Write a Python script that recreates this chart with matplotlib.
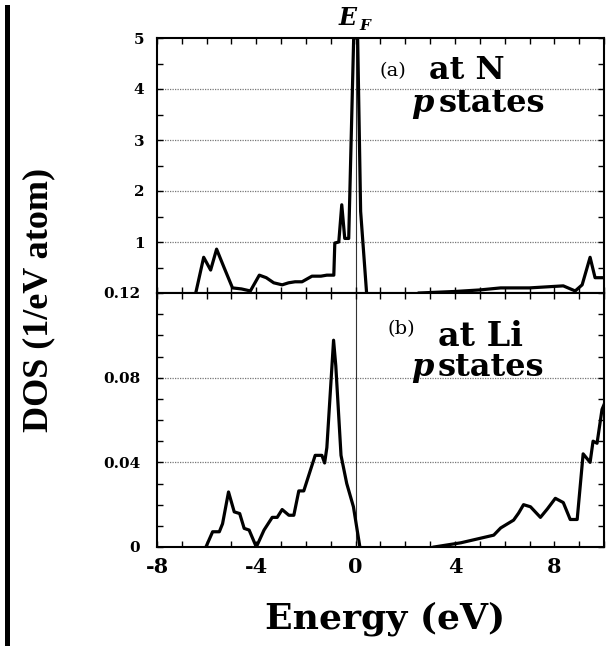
import numpy as np
import matplotlib
matplotlib.use("Agg")
import matplotlib.pyplot as plt
from matplotlib.patches import Rectangle

# ---- data (energy in eV, DOS in 1/eV atom) ---------------------------------
# (a) N p states
e_n = [-6.44, -6.12, -5.84, -5.6, -5.3, -4.96, -4.6, -4.24, -3.88, -3.6, -3.3,
       -2.96, -2.7, -2.44, -2.16, -1.76, -1.4, -1.16, -0.88, -0.84, -0.68,
       -0.56, -0.44, -0.28, -0.08, 0.08, 0.2, 0.44, np.nan,
       2.56, 4.0, 5.0, 5.84, 7.0, 8.36, 8.84, 9.12, 9.44, 9.64, 10.0]
dos_n = [0.0, 0.7, 0.45, 0.86, 0.5, 0.1, 0.08, 0.04, 0.35, 0.3, 0.2,
         0.16, 0.2, 0.22, 0.22, 0.33, 0.33, 0.35, 0.35, 0.98, 1.0,
         1.73, 1.07, 1.07, 5.0, 5.0, 1.6, 0.0, np.nan,
         0.0, 0.03, 0.06, 0.1, 0.1, 0.14, 0.04, 0.16, 0.7, 0.3, 0.3]

# (b) Li p states
e_li = [-6.03, -5.76, -5.49, -5.36, -5.12, -4.89, -4.67, -4.49, -4.29, -4.0,
        -3.69, -3.36, -3.16, -2.96, -2.69, -2.49, -2.29, -2.09, -1.63, -1.36,
        -1.25, -1.16, -0.89, -0.8, -0.59, -0.36, -0.09, 0.17, np.nan,
        3.16, 4.24, 5.56, 5.84, 6.36, 6.56, 6.76, 7.04, 7.44, 7.72, 8.04,
        8.36, 8.64, 8.92, 9.16, 9.44, 9.56, 9.72, 9.92, 10.1]
dos_li = [0.0, 0.0072, 0.0072, 0.011, 0.026, 0.0166, 0.0158, 0.0088, 0.008, 0.0,
          0.008, 0.014, 0.014, 0.0177, 0.015, 0.015, 0.0265, 0.0265, 0.0433, 0.0433,
          0.0397, 0.047, 0.0977, 0.0856, 0.0433, 0.030, 0.019, 0.0, np.nan,
          0.0, 0.002, 0.0056, 0.009, 0.0127, 0.016, 0.02, 0.019, 0.014, 0.018, 0.023,
          0.021, 0.013, 0.013, 0.044, 0.04, 0.05, 0.049, 0.065, 0.07]

yticks_a = [1, 2, 3, 4, 5]
yticks_b = [0, 0.04, 0.08, 0.12]
yticklabels_b = ["0", "0.04", "0.08", "0.12"]
xticks = [-8, -4, 0, 4, 8]

TIMES = ["Liberation Serif", "DejaVu Serif"]
WIDE = ["DejaVu Serif"]      # the scan's type is wide; DejaVu keeps the widths
plt.rcParams.update({
    "font.family": WIDE,
    "font.weight": "bold",
    "axes.linewidth": 1.5,
})

W, H = 611, 646
fig = plt.figure(figsize=(W / 100, H / 100), dpi=100)
fig.patch.set_facecolor("white")

left, right = 157 / W, 604 / W
a_top, a_bot, b_bot = 1 - 38 / H, 1 - 293 / H, 1 - 547 / H
axA = fig.add_axes([left, a_bot, right - left, a_top - a_bot])
axB = fig.add_axes([left, b_bot, right - left, a_bot - b_bot])

for ax in (axA, axB):
    ax.set_xlim(-8, 10)
    ax.set_xticks(xticks)
    ax.set_xticks(np.arange(-8, 11, 1), minor=True)
    ax.tick_params(which="both", direction="in", top=True, right=True,
                   length=4, width=1.0)
    ax.axvline(0, color="#333333", lw=0.8, zorder=1)

# ---- panel (a) ---------------------------------------------------------------
axA.plot(e_n, dos_n, color="black", lw=2.3, zorder=3, solid_joinstyle="round")
axA.set_ylim(0, 5)
axA.set_yticks(yticks_a)
axA.set_yticks(np.arange(0, 5.01, 0.5), minor=True)
axA.set_yticklabels([str(v) for v in yticks_a], fontsize=11)
axA.tick_params(axis="y", pad=9)
axA.tick_params(axis="x", labelbottom=False)
for v in yticks_a[:-1]:
    axA.axhline(v, color="#777777", lw=0.9, ls=(0, (1, 1)), zorder=0)

axA.text(0.96, 4.25, "(a)", fontsize=14, fontweight="normal", va="baseline")
axA.text(2.96, 4.2, "at N", fontsize=23, va="baseline")
axA.text(2.24, 3.55, "p", fontsize=23, style="italic", va="baseline")
axA.text(3.36, 3.55, "states", fontsize=23, va="baseline")

# ---- panel (b) ---------------------------------------------------------------
axB.plot(e_li, dos_li, color="black", lw=2.3, zorder=3, solid_joinstyle="round")
axB.set_ylim(0, 0.12)
axB.set_yticks(yticks_b)
axB.set_yticks(np.arange(0, 0.1201, 0.01), minor=True)
axB.set_yticklabels(yticklabels_b, fontsize=11)
axB.tick_params(axis="y", pad=12)
axB.set_xticklabels([str(v) for v in xticks], fontsize=15)
axB.tick_params(axis="x", pad=7)
for v in (0.04, 0.08):
    axB.axhline(v, color="#777777", lw=0.9, ls=(0, (1, 1)), zorder=0)

axB.text(1.28, 0.1007, "(b)", fontsize=14, fontweight="normal", va="baseline")
axB.text(3.32, 0.0951, "at Li", fontsize=24, va="baseline")
axB.text(2.24, 0.081, "p", fontsize=23, style="italic", va="baseline")
axB.text(3.32, 0.081, "states", fontsize=23, va="baseline")

# ---- figure-level labels -----------------------------------------------------
fig.text(339 / W, 1 - 25 / H, "E", fontsize=17, style="italic", va="baseline")
fig.text(359 / W, 1 - 30 / H, "F", fontsize=11, style="italic", va="baseline")
fig.text(39 / W, 1 - 300 / H, "DOS (1/eV atom)", family=TIMES, rotation=90,
         fontsize=26, ha="center", va="center")
fig.text(385 / W, 1 - 628 / H, "Energy (eV)", fontsize=26, ha="center",
         va="baseline")

# thick scan border at the left
fig.add_artist(Rectangle((5 / W, 0), 5 / W, 1 - 5 / H, transform=fig.transFigure,
                         facecolor="black", edgecolor="none"))

fig.savefig("out.png", dpi=100, facecolor="white")
